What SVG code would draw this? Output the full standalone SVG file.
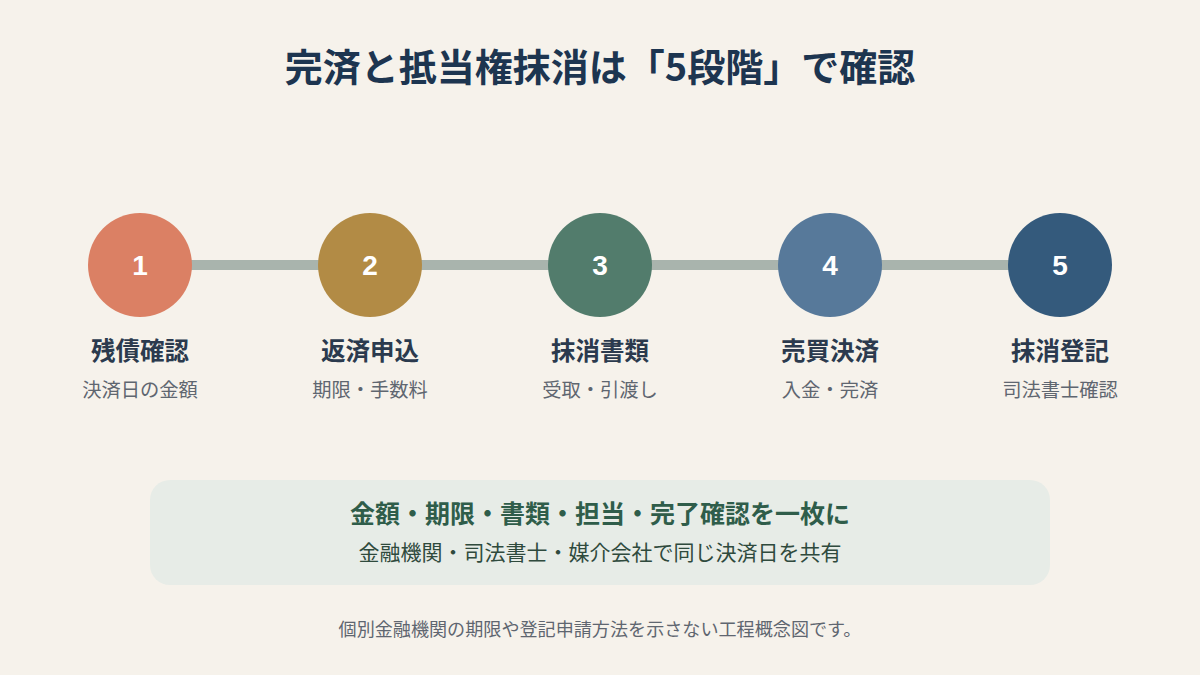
<svg xmlns="http://www.w3.org/2000/svg" width="1200" height="675" viewBox="0 0 1200 675">
<style>
.jp{font-family:"Noto Sans CJK JP","Noto Sans",sans-serif}
.title{font-size:38px;font-weight:700;fill:#1d3550}
.num{font-family:"Liberation Sans",Arial,sans-serif;font-size:28px;font-weight:700;fill:#ffffff}
.st{font-size:24.5px;font-weight:700;fill:#2b3a4e}
.sub{font-size:19.3px;fill:#5f6670}
.b1{font-size:25px;font-weight:700;fill:#2f5d4a}
.b2{font-size:21px;fill:#2f4a3d}
.foot{font-size:18.1px;fill:#5f6670}
</style>
<rect width="1200" height="675" fill="#f6f2eb"/>
<text class="jp title" x="600" y="81" text-anchor="middle">完済と抵当権抹消は「5段階」で確認</text>
<g id="connectors">
<line x1="140" y1="265" x2="1060" y2="265" stroke="#a9b4ad" stroke-width="10"/>
</g>
<g id="step1">
<circle cx="140" cy="265" r="52" fill="#db8064"/>
<text class="num" x="140" y="275" text-anchor="middle">1</text>
<text class="jp st" x="140" y="360" text-anchor="middle">残債確認</text>
<text class="jp sub" x="140" y="397" text-anchor="middle">決済日の金額</text>
</g>
<g id="step2">
<circle cx="370" cy="265" r="52" fill="#b28b45"/>
<text class="num" x="370" y="275" text-anchor="middle">2</text>
<text class="jp st" x="370" y="360" text-anchor="middle">返済申込</text>
<text class="jp sub" x="370" y="397" text-anchor="middle">期限・手数料</text>
</g>
<g id="step3">
<circle cx="600" cy="265" r="52" fill="#527c6c"/>
<text class="num" x="600" y="275" text-anchor="middle">3</text>
<text class="jp st" x="600" y="360" text-anchor="middle">抹消書類</text>
<text class="jp sub" x="600" y="397" text-anchor="middle">受取・引渡し</text>
</g>
<g id="step4">
<circle cx="830" cy="265" r="52" fill="#57799a"/>
<text class="num" x="830" y="275" text-anchor="middle">4</text>
<text class="jp st" x="830" y="360" text-anchor="middle">売買決済</text>
<text class="jp sub" x="830" y="397" text-anchor="middle">入金・完済</text>
</g>
<g id="step5">
<circle cx="1060" cy="265" r="52" fill="#345a7c"/>
<text class="num" x="1060" y="275" text-anchor="middle">5</text>
<text class="jp st" x="1060" y="360" text-anchor="middle">抹消登記</text>
<text class="jp sub" x="1060" y="397" text-anchor="middle">司法書士確認</text>
</g>
<g id="summary">
<rect x="150" y="480" width="900" height="105" rx="20" fill="#e7ece7"/>
<text class="jp b1" x="600" y="523" text-anchor="middle">金額・期限・書類・担当・完了確認を一枚に</text>
<text class="jp b2" x="600" y="560" text-anchor="middle">金融機関・司法書士・媒介会社で同じ決済日を共有</text>
</g>
<text class="jp foot" x="600" y="636" text-anchor="middle">個別金融機関の期限や登記申請方法を示さない工程概念図です。</text>
</svg>
